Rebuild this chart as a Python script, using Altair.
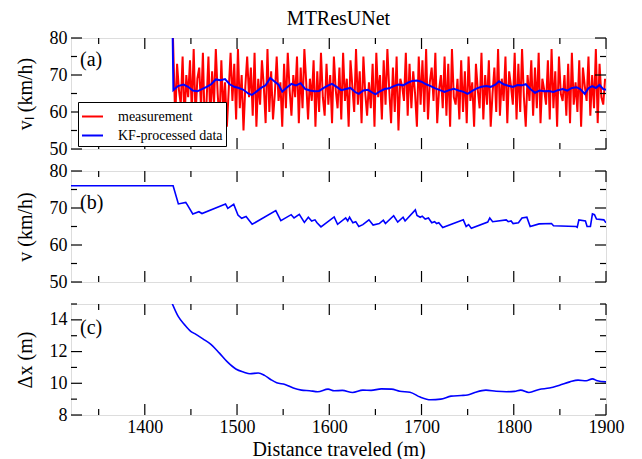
import altair as alt
import pandas as pd

FONT = "Liberation Serif"

# ---------------- tick positions ----------------
x_major = [1400, 1500, 1600, 1700, 1800, 1900]
x_minor = [1350, 1450, 1550, 1650, 1750, 1850]
v_major = [50, 60, 70, 80]
v_minor = [55, 65, 75]
dx_major = [8, 10, 12, 14]
dx_minor = [9, 11, 13, 15]
panel_labels = ["(a)", "(b)", "(c)"]
series_names = ["measurement", "KF-processed data"]

# ---------------- panel (a): measurement (every 2 m from 1431 m) ----------------
meas_first_x = 1430
meas_first_v = 85
meas_values = [
    76, 58, 73, 66, 62, 75, 57, 70, 64, 74, 60, 77, 59, 69, 72, 61, 76, 56, 63, 75,
    58, 71, 62, 77, 65, 57, 74, 60, 68, 56, 66, 76, 63, 73, 58, 77, 61, 70, 55, 67,
    75, 64, 72, 59, 76, 56, 69, 62, 74, 67, 57, 77, 60, 71, 58, 65, 75, 63, 68, 56,
    73, 61, 76, 66, 59, 70, 64, 75, 57, 72, 61, 77, 68, 58, 69, 63, 74, 56, 71, 60,
    76, 64, 59, 73, 62, 70, 57, 75, 66, 61, 72, 58, 76, 63, 69, 56, 74, 67, 60, 77,
    62, 71, 57, 75, 65, 59, 68, 61, 73, 56, 76, 64, 70, 58, 74, 62, 77, 66, 57, 72,
    60, 75, 55, 69, 67, 63, 76, 59, 73, 61, 71, 65, 56, 75, 62, 74, 60, 77, 58, 68,
    72, 63, 76, 57, 66, 70, 61, 75, 59, 73, 56, 77, 64, 62, 69, 58, 74, 60, 71, 57,
    75, 63, 68, 56, 73, 66, 61, 76, 58, 70, 62, 74, 56, 65, 72, 60, 77, 59, 69, 63,
    75, 57, 71, 67, 62, 76, 58, 73, 60, 77, 64, 56, 70, 63, 74, 59, 72, 61, 76, 57,
    69, 66, 62, 74, 58, 77, 61, 71, 56, 75, 65, 63, 70, 59, 73, 57, 76, 62, 68, 60,
    74, 56, 72, 67, 63, 75, 59, 70, 61, 77, 57, 73, 64, 62, 69,
]
meas_x = [meas_first_x] + [1431 + 2 * i for i in range(len(meas_values))]
meas_v = [meas_first_v] + meas_values

# ---------------- panel (a): KF-processed ----------------
kfa_x = [1430, 1431, 1436, 1442, 1447, 1452, 1457, 1462, 1467, 1472, 1477, 1482, 1487,
         1492, 1497, 1502, 1507, 1512, 1516, 1521, 1526, 1531, 1536, 1540, 1545, 1549,
         1554, 1559, 1564, 1569, 1574, 1579, 1584, 1589, 1594, 1599, 1603, 1608, 1613,
         1618, 1623, 1628, 1632, 1637, 1642, 1647, 1650, 1655, 1660, 1665, 1670, 1675,
         1680, 1685, 1690, 1695, 1700, 1705, 1710, 1715, 1720, 1725, 1730, 1735, 1740,
         1745, 1750, 1755, 1760, 1765, 1770, 1775, 1780, 1784, 1789, 1794, 1799, 1804,
         1809, 1813, 1818, 1823, 1828, 1833, 1838, 1843, 1848, 1853, 1858, 1863, 1868,
         1872, 1877, 1881, 1885, 1889, 1893, 1897, 1900]
kfa_v = [85, 65.9, 67.0, 67.4, 66.8, 65.8, 65.6, 66.2, 66.8, 67.5, 68.8, 68.6, 68.9,
         67.5, 66.8, 66.5, 66.0, 65.0, 64.6, 65.5, 66.5, 67.2, 69.2, 68.4, 67.4, 65.5,
         66.6, 67.6, 67.2, 67.8, 66.2, 65.8, 65.6, 65.7, 66.5, 67.2, 67.6, 66.8, 65.9,
         66.2, 66.5, 65.4, 64.9, 65.8, 66.0, 65.2, 64.8, 65.6, 66.2, 66.4, 67.0, 67.4,
         67.2, 67.9, 68.4, 68.5, 68.2, 67.5, 67.0, 66.4, 65.9, 65.4, 65.9, 66.3, 65.8,
         65.5, 64.9, 65.7, 66.4, 66.8, 67.0, 66.8, 67.4, 68.3, 67.5, 67.1, 66.8, 67.3,
         67.2, 67.5, 66.2, 65.2, 65.8, 65.6, 65.7, 65.4, 65.9, 66.2, 65.8, 66.5, 66.7,
         66.2, 64.9, 66.4, 67.0, 66.5, 67.3, 66.2, 66.0]

# ---------------- panel (b): v ----------------
vb_x = [1320, 1430.7, 1436.4, 1444.4, 1446, 1452, 1458.7, 1462, 1487.5, 1490, 1496.4,
        1501, 1505, 1509.8, 1516.4, 1542, 1547.5, 1558.7, 1561.8, 1567.5, 1573, 1577.3,
        1580.9, 1584.5, 1586.7, 1591, 1605.3, 1609, 1617.8, 1620, 1622, 1625.6, 1628.7,
        1632, 1636.4, 1643, 1647.5, 1654.2, 1658.6, 1660.9, 1669.8, 1674.2, 1680,
        1682.2, 1693.3, 1695.1, 1698.6, 1700.8, 1704, 1707.5, 1711.1, 1714.2, 1716.4,
        1718.7, 1723, 1745.3, 1748.4, 1751.1, 1754, 1771.8, 1774, 1777.1, 1791.8,
        1794, 1797.1, 1799.3, 1805.1, 1808.9, 1814.2, 1817.8, 1827.5, 1840.9, 1843.1,
        1867.5, 1868.8, 1870.6, 1877.7, 1879.5, 1883.1, 1885.3, 1887.5, 1889.7,
        1897.7, 1900]
vb_v = [76.0, 76.0, 71.1, 71.5, 70.9, 68.4, 69.0, 68.5, 71.1, 69.9, 71.0,
        68.1, 67.2, 67.7, 65.6, 69.3, 66.6, 68.2, 67.3, 68.3, 66.1, 67.5,
        66.5, 66.8, 66.0, 64.9, 67.6, 65.6, 67.3, 66.5, 67.5, 66.0, 66.3,
        65.0, 65.5, 66.8, 65.4, 65.8, 66.7, 65.8, 67.9, 66.2, 67.5,
        66.5, 69.5, 68.0, 67.5, 67.8, 67.0, 67.3, 66.0, 66.3, 65.8,
        66.0, 64.7, 66.8, 65.0, 65.5, 64.5, 66.2, 67.3, 66.3, 66.8,
        66.3, 66.5, 65.8, 66.0, 67.3, 67.5, 65.0, 65.7, 65.8, 65.2,
        65.0, 64.8, 66.8, 66.5, 65.0, 65.0, 68.4, 68.2, 67.0,
        66.8, 66.0]

# ---------------- panel (c): delta x ----------------
dx_x = [1428.5, 1436.4, 1443, 1449.8, 1454.2, 1463, 1472, 1480.9, 1489.8, 1498.7, 1507.5,
        1514, 1523, 1529.8, 1536.4, 1543, 1552, 1561, 1569.8, 1578.7, 1587.5, 1598.7,
        1605.3, 1614.2, 1625.3, 1636.4, 1645.3, 1656.4, 1667.5, 1676.4, 1687.5, 1698.6,
        1709.8, 1720.9, 1732, 1743, 1749.8, 1758.6, 1769.8, 1780.9, 1792, 1800.8,
        1807.5, 1816.4, 1827.5, 1838.6, 1849.7, 1860.8, 1869.7, 1878.6, 1885.3, 1890.6,
        1900]
dx_v = [15.2, 14.2, 13.7, 13.28, 13.13, 12.8, 12.44, 11.9, 11.33, 10.9, 10.7,
        10.6, 10.65, 10.5, 10.24, 10.03, 9.93, 9.7, 9.57, 9.53, 9.47, 9.63,
        9.53, 9.55, 9.42, 9.57, 9.55, 9.65, 9.63, 9.5, 9.44, 9.13,
        8.96, 9.0, 9.19, 9.23, 9.26, 9.44, 9.57, 9.5, 9.47, 9.49,
        9.57, 9.42, 9.61, 9.7, 9.88, 10.09, 10.2, 10.16, 10.28, 10.16,
        10.09]

# ---------------- layout constants ----------------
W, H = 535, 111
MAJ, MIN = 11, 6
xscale = alt.Scale(domain=[1320, 1900], nice=False, zero=False)
vscale = alt.Scale(domain=[50, 80], nice=False, zero=False)
dxscale = alt.Scale(domain=[8, 15], nice=False, zero=False)


def y_axis(values, title):
    return alt.Axis(values=values, title=title, ticks=False, domain=False, grid=False,
                    labelFont=FONT, labelFontSize=18, labelColor="black", labelPadding=4,
                    titleFont=FONT, titleFontSize=20, titleFontWeight="normal",
                    titleColor="black", titlePadding=14)


no_x_axis = None
bottom_x_axis = alt.Axis(
    values=x_major, format="d", title="Distance traveled (m)", ticks=False, domain=False,
    grid=False, labelFlush=False, labelFont=FONT, labelFontSize=18, labelColor="black",
    labelPadding=3, titleFont=FONT, titleFontSize=20, titleFontWeight="normal",
    titleColor="black", titlePadding=3)


def tick_layers(ymaj, ymin, yscale, xaxis, yaxis):
    layers = []
    for vals, L in ((x_major, MAJ), (x_minor, MIN)):
        base = alt.Chart(pd.DataFrame({"x": vals})).mark_rule(color="black", strokeWidth=1.2)
        xe = alt.X("x:Q", scale=xscale, axis=xaxis)
        layers.append(base.encode(x=xe, y=alt.value(0), y2=alt.value(L)))
        layers.append(base.encode(x=xe, y=alt.value(H), y2=alt.value(H - L)))
    for vals, L in ((ymaj, MAJ), (ymin, MIN)):
        base = alt.Chart(pd.DataFrame({"y": vals})).mark_rule(color="black", strokeWidth=1.2)
        ye = alt.Y("y:Q", scale=yscale, axis=yaxis)
        layers.append(base.encode(y=ye, x=alt.value(0), x2=alt.value(L)))
        layers.append(base.encode(y=ye, x=alt.value(W), x2=alt.value(W - L)))
    return layers


def label_layer(text, y):
    return alt.Chart(pd.DataFrame({"t": [text]})).mark_text(
        font=FONT, fontSize=20, align="left", baseline="middle", color="black"
    ).encode(x=alt.value(9), y=alt.value(y), text="t:N")


color = alt.Color("series:N", scale=alt.Scale(domain=series_names, range=["#ff0000", "#0000ff"]),
                  legend=alt.Legend(title=None, orient="none", legendX=7, legendY=64,
                                    symbolType="stroke", symbolSize=441, symbolStrokeWidth=2,
                                    labelFont=FONT, labelFontSize=14, labelColor="black",
                                    labelOffset=14, strokeColor="black", fillColor="white",
                                    padding=3, rowPadding=-6, cornerRadius=0))

# panel (a)
ax_a = y_axis(v_major, "vₗ (km/h)")
df_meas = pd.DataFrame({"x": meas_x, "y": meas_v, "series": series_names[0]})
df_kfa = pd.DataFrame({"x": kfa_x, "y": kfa_v, "series": series_names[1]})
xa = alt.X("x:Q", scale=xscale, axis=no_x_axis)
ya = alt.Y("y:Q", scale=vscale, axis=ax_a)
meas_line = alt.Chart(df_meas).mark_line(strokeWidth=2, clip=True).encode(x=xa, y=ya, color=color)
kfa_line = alt.Chart(df_kfa).mark_line(strokeWidth=2, clip=True).encode(x=xa, y=ya, color=color)
panel_a = alt.layer(meas_line, kfa_line,
                    *tick_layers(v_major, v_minor, vscale, no_x_axis, ax_a),
                    label_layer(panel_labels[0], 22)).properties(
    width=W, height=H,
    title=alt.TitleParams("MTResUNet", font=FONT, fontSize=20, fontWeight="normal",
                          color="black", anchor="middle", frame="group", offset=0))

# panel (b)
ax_b = y_axis(v_major, "v (km/h)")
df_b = pd.DataFrame({"x": vb_x, "y": vb_v})
b_line = alt.Chart(df_b).mark_line(color="#0000ff", strokeWidth=1.6, clip=True).encode(
    x=alt.X("x:Q", scale=xscale, axis=no_x_axis), y=alt.Y("y:Q", scale=vscale, axis=ax_b))
panel_b = alt.layer(b_line, *tick_layers(v_major, v_minor, vscale, no_x_axis, ax_b),
                    label_layer(panel_labels[1], 32)).properties(width=W, height=H)

# panel (c)
ax_c = y_axis(dx_major, "Δx (m)")
df_c = pd.DataFrame({"x": dx_x, "y": dx_v})
c_line = alt.Chart(df_c).mark_line(color="#0000ff", strokeWidth=1.6, clip=True,
                                   interpolate="monotone").encode(
    x=alt.X("x:Q", scale=xscale, axis=bottom_x_axis), y=alt.Y("y:Q", scale=dxscale, axis=ax_c))
panel_c = alt.layer(c_line, *tick_layers(dx_major, dx_minor, dxscale, bottom_x_axis, ax_c),
                    label_layer(panel_labels[2], 24)).properties(width=W, height=H)

chart = alt.vconcat(panel_a, panel_b, panel_c, spacing=22, bounds="flush").properties(
    padding={"left": 6, "top": 0, "right": 5, "bottom": 0}
).configure_view(stroke="black", strokeWidth=1.5).configure(background="white")

chart.save("out.html", embed_options={"renderer": "svg", "actions": False})
